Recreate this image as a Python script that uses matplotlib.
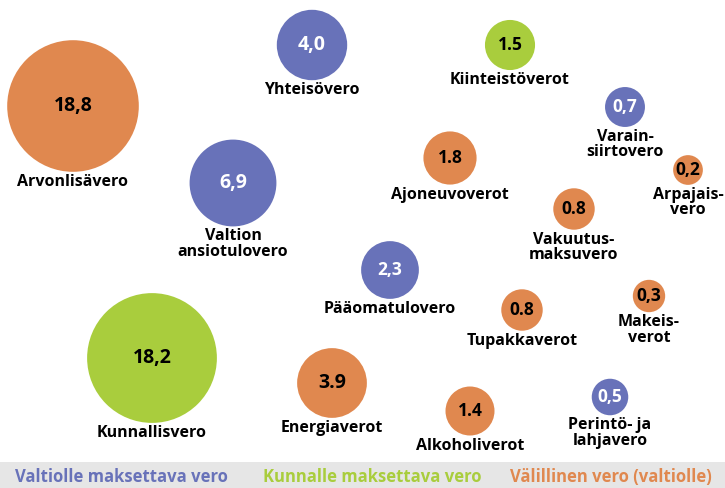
"""Bubble chart of Finnish tax revenues (billions of euros)."""

import matplotlib

matplotlib.use("Agg")
import matplotlib.pyplot as plt
from matplotlib.patches import Circle, Rectangle

BLUE = "#6872B9"
GREEN = "#A9CD3D"
ORANGE = "#E0884F"

# data
taxes = [
    "Arvonlisävero", "Yhteisövero", "Kiinteistöverot", "Varain-\nsiirtovero",
    "Arpajais-\nvero", "Ajoneuvoverot", "Valtion\nansiotulovero",
    "Vakuutus-\nmaksuvero", "Pääomatulovero", "Tupakkaverot", "Makeis-\nverot",
    "Kunnallisvero", "Energiaverot", "Alkoholiverot", "Perintö- ja\nlahjavero",
]
values = [18.8, 4.0, 1.5, 0.7, 0.2, 1.8, 6.9, 0.8, 2.3, 0.8, 0.3, 18.2, 3.9, 1.4, 0.5]
value_labels = [
    "18,8", "4,0", "1.5", "0,7", "0,2", "1.8", "6,9", "0.8", "2,3", "0.8",
    "0,3", "18,2", "3.9", "1.4", "0,5",
]
groups = ["v", "s", "k", "s", "v", "v", "s", "v", "s", "v", "v", "k", "v", "v", "s"]
legend_labels = ["Valtiolle maksettava vero", "Kunnalle maksettava vero",
                 "Välillinen vero (valtiolle)"]

# layout (pixel centres of the bubbles)
centres = [
    (73, 106), (312, 45), (510, 45), (625, 107), (688, 170), (450, 158),
    (233, 183), (574, 209), (390, 270), (522, 310), (649, 296), (152, 358),
    (332, 383), (470, 411), (610, 397),
]

colours = {"s": BLUE, "k": GREEN, "v": ORANGE}
text_colours = {"s": "white", "k": "black", "v": "black"}

W, H = 725, 488
fig = plt.figure(figsize=(W / 100, H / 100), dpi=100)
ax = fig.add_axes([0, 0, 1, 1])
ax.set_xlim(0, W)
ax.set_ylim(H, 0)
ax.set_aspect("equal")
ax.axis("off")

font = "Open Sans"

for name, value, vlab, grp, (cx, cy) in zip(taxes, values, value_labels, groups, centres):
    r = 9 + 13.1 * value ** 0.5
    ax.add_patch(Circle((cx, cy), r, facecolor=colours[grp], edgecolor="none"))
    size = 14 if r > 30 else 12.5
    ax.text(cx, cy, vlab, ha="center", va="center", fontsize=size,
            fontweight="bold", color=text_colours[grp], family=font)
    ax.text(cx, cy + r + 2, name, ha="center", va="top", fontsize=11.5,
            fontweight="bold", color="black", family=font, linespacing=0.95)

ax.add_patch(Rectangle((0, 462), W, 26, facecolor="#E6E6E6", edgecolor="none"))
for label, colour, x in zip(legend_labels, [BLUE, GREEN, ORANGE], [15, 263, 510]):
    ax.text(x, 477, label, ha="left", va="center", fontsize=12, fontweight="bold",
            color=colour, family=font)

fig.savefig("out.png", dpi=100)
